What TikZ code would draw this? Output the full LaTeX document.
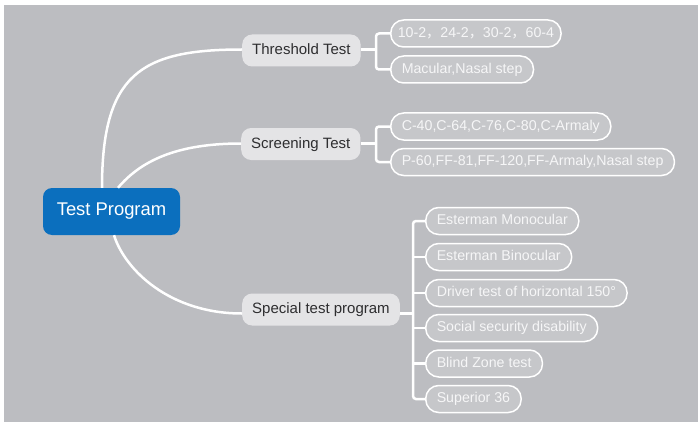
\documentclass[tikz,border=0pt]{standalone}
\usepackage{fontspec}
\setmainfont{Liberation Sans}
\newfontfamily\cjkfont{Noto Sans CJK SC}
\definecolor{bgc}{HTML}{BCBDC1}
\definecolor{midfill}{HTML}{E4E4E6}
\definecolor{midtext}{HTML}{2E2E30}
\definecolor{leaffill}{HTML}{C6C7CA}
\definecolor{leaftext}{HTML}{F6F6F7}
\definecolor{rootblue}{HTML}{0B6FBE}
\tikzset{
  rootbox/.style={fill=rootblue, text=white, rounded corners=9pt, minimum width=137pt, minimum height=47pt, inner sep=0pt,
    font=\fontsize{18.4}{21}\selectfont},
  midbox/.style={fill=midfill, text=midtext, rounded corners=10pt, minimum height=32pt, inner xsep=10pt, inner ysep=0pt,
    font=\fontsize{15}{17}\selectfont, text height=11pt, text depth=3pt},
  leafbox/.style={fill=leaffill, draw=white, line width=1.5pt, text=leaftext, rounded corners=13pt, minimum height=27pt,
    inner xsep=11pt, inner ysep=0pt, font=\fontsize{14.2}{16}\selectfont, text height=10.5pt, text depth=3pt},
  conn/.style={draw=white, line width=2.5pt},
  brk/.style={draw=white, line width=2.5pt, rounded corners=3pt}
}
\begin{document}
\begin{tikzpicture}[x=1pt,y=-1pt]
\fill[white] (0,0) rectangle (698,425);
\fill[bgc] (4,5) rectangle (698,422);

\node[rootbox] (root) at (111.5,211.5) {Test Program};
\node[midbox, anchor=west] (th) at (242,50.5) {Threshold Test};
\node[midbox, anchor=west] (sc) at (241,144) {Screening Test};
\node[midbox, anchor=west] (sp) at (242,309.5) {Special test program};

\draw[conn] ([xshift=-9.5pt]root.north) .. controls +(0,-113) and +(-102,0) .. ([yshift=1pt]th.west);
\draw[conn] ([xshift=6.5pt]root.north) .. controls +(22,-26) and +(-66,0) .. ([yshift=0.5pt]sc.west);
\draw[conn] ([xshift=2.5pt]root.south) .. controls +(11,35) and +(-72,0) .. ([yshift=-4pt]sp.west);

% threshold leaves
\node[leafbox, anchor=west, inner xsep=7pt] (t1) at (390,33.5) {10-2{\cjkfont ，}24-2{\cjkfont ，}30-2{\cjkfont ，}60-4};
\node[leafbox, anchor=west] (t2) at (390,69.5) {Macular,Nasal step};
% screening leaves
\node[leafbox, anchor=west] (s1) at (390,126.5) {C-40,C-64,C-76,C-80,C-Armaly};
\node[leafbox, anchor=west] (s2) at (390,162) {P-60,FF-81,FF-120,FF-Armaly,Nasal step};
% special leaves
\node[leafbox, anchor=west] (p1) at (425,221) {Esterman Monocular};
\node[leafbox, anchor=west] (p2) at (425,257) {Esterman Binocular};
\node[leafbox, anchor=west] (p3) at (425,293) {Driver test of horizontal 150°};
\node[leafbox, anchor=west] (p4) at (425,328) {Social security disability};
\node[leafbox, anchor=west] (p5) at (425,363.5) {Blind Zone test};
\node[leafbox, anchor=west] (p6) at (425,399) {Superior 36};

\coordinate (bt) at (376,49.5);
\coordinate (bc) at (376,143.5);
\coordinate (bs) at (413,313.5);

\draw[conn] ([yshift=1pt]th.east) -- (bt);
\draw[brk] (t1.west) -| (bt) |- (t2.west);
\draw[conn] ([yshift=0.5pt]sc.east) -- (bc);
\draw[brk] (s1.west) -| (bc) |- (s2.west);
\draw[conn] ([yshift=-4pt]sp.east) -- (bs);
\draw[brk] (p1.west) -| (bs) |- (p6.west);
\draw[conn] (p2.west) -- (p2.west -| bs);
\draw[conn] (p3.west) -- (p3.west -| bs);
\draw[conn] (p4.west) -- (p4.west -| bs);
\draw[conn] (p5.west) -- (p5.west -| bs);
\end{tikzpicture}
\end{document}
